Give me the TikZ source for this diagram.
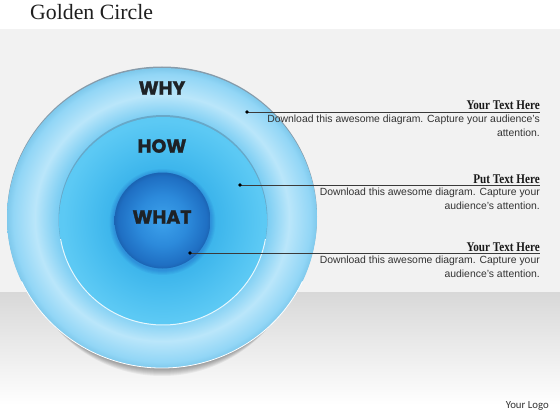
\documentclass[tikz,border=0pt]{standalone}
\usepackage{fontspec}
\setmainfont{Liberation Serif}
\setsansfont{Liberation Sans}
\newfontfamily\ringfont[BoldFeatures={FakeBold=1.2}]{Poppins}
\newfontfamily\headfont[FakeStretch=0.84]{Liberation Serif}
\newfontfamily\logofont{Carlito}
\usepackage{tikz}
\usetikzlibrary{positioning}

\definecolor{panel}{HTML}{F2F2F2}
\definecolor{floor}{HTML}{D8D8D8}
\definecolor{ringin}{HTML}{7DCEF3}
\definecolor{ringlight}{HTML}{BAE6FA}
\definecolor{ringout}{HTML}{92D6F6}
\definecolor{ringrim}{HTML}{7FC9EC}
\definecolor{ringtop}{HTML}{40627A}
\definecolor{howdeep}{HTML}{3BB4EB}
\definecolor{howmid}{HTML}{4BBFF0}
\definecolor{howout}{HTML}{5CC9F4}
\definecolor{whatlight}{HTML}{3DA2EC}
\definecolor{whatmid}{HTML}{2C8ADB}
\definecolor{whatdark}{HTML}{1F6FC3}
\definecolor{whatrim}{HTML}{1B64B3}
\definecolor{ink}{HTML}{1E2226}
\definecolor{pin}{HTML}{3A3A3A}

\pgfdeclareradialshading{whyshade}{\pgfpoint{0bp}{0bp}}{color(0bp)=(ringin); color(17bp)=(ringin); color(20.5bp)=(ringlight); color(24bp)=(ringout); color(25bp)=(ringrim); color(50bp)=(ringrim)}
\pgfdeclareradialshading{howshade}{\pgfpoint{0bp}{0bp}}{color(0bp)=(howdeep); color(12bp)=(howdeep); color(18bp)=(howmid); color(24bp)=(howout); color(25bp)=(howout); color(50bp)=(howout)}
\pgfdeclareradialshading{whatshade}{\pgfpoint{0bp}{0bp}}{color(0bp)=(whatlight); color(13bp)=(whatmid); color(23bp)=(whatdark); color(25bp)=(whatrim); color(50bp)=(whatrim)}

\tikzset{
  ringlabel/.style={font=\ringfont\bfseries\fontsize{19}{19}\selectfont, text=ink},
  headtext/.style={font=\headfont\bfseries\fontsize{13.3}{14}\selectfont, text=black!90, inner sep=0pt, anchor=base east},
  bodytext/.style={font=\sffamily\fontsize{10.4}{14}\selectfont, text=black!80, inner sep=0pt, align=right, anchor=north east},
  leader/.style={draw=pin, line width=0.6pt}
}

\begin{document}
\begin{tikzpicture}[x=1pt, y=-1pt]
	\useasboundingbox (0,0) rectangle (560,420);
	% backdrop
	\fill[white] (0,0) rectangle (560,420);
	\fill[panel] (0,29) rectangle (560,292);
	\shade[top color=floor, bottom color=white] (0,292) rectangle (560,405);
	\node[anchor=base west, inner sep=0pt, font=\fontsize{21.8}{22}\selectfont, text=black!88] (title) at (30,19.5) {Golden Circle};

	% circles
	\foreach \k in {0,...,8}
		\fill[black, opacity=0.05] (162,{222+\k}) ellipse ({151-\k} and 146);
	\fill[ringtop, opacity=0.6] (162,216.5) ellipse (155 and 150);
	\shade[shading=whyshade] (162,218) ellipse (155 and 150);
	\draw[white, line width=0.8pt] (162,218) ++(25:155 and 150) arc[start angle=25, end angle=155, x radius=155, y radius=150];
	\fill[ringtop, opacity=0.35] (163,219.5) circle[radius=104.5];
	\shade[shading=howshade] (163,221) circle[radius=104];
	\draw[white!90!cyan, line width=1pt] (163,221) ++(10:104) arc[start angle=10, end angle=170, radius=104];
	\foreach \k in {1,...,5}
		\fill[blue!60!black, opacity=0.04] (162.5,222) circle[radius=48+\k];
	\shade[shading=whatshade] (162.5,220.5) circle[radius=48];

	\node[ringlabel] (why) at (162,88) {WHY};
	\node[ringlabel] (how) at (162,146) {HOW};
	\node[ringlabel] (what) at (162,217) {WHAT};

	% pins and leaders
	\foreach \name/\x/\y in {why/247/112, how/240/185, what/190/253} {
		\coordinate (pin\name) at (\x,\y);
		\coordinate (end\name) at (540,\y);
	}
	\foreach \name in {why, how, what} {
		\draw[leader] (pin\name) -- (end\name);
		\fill[pin] (pin\name) circle[radius=1.8];
	}

	\node[headtext] (headwhy) at ([yshift=2pt]endwhy) {Your Text Here};
	\node[bodytext] (bodywhy) at ([yshift=-2.5pt]endwhy) {Download this awesome diagram. Capture your audience’s\\attention.};
	\node[headtext] (headhow) at ([yshift=2pt]endhow) {Put Text Here};
	\node[bodytext] (bodyhow) at ([yshift=-2.5pt]endhow) {Download this awesome diagram. Capture your\\audience’s attention.};
	\node[headtext] (headwhat) at ([yshift=2pt]endwhat) {Your Text Here};
	\node[bodytext] (bodywhat) at ([yshift=-2.5pt]endwhat) {Download this awesome diagram. Capture your\\audience’s attention.};

	\node[anchor=base east, inner sep=0pt, font=\logofont\fontsize{10.8}{11}\selectfont, text=black!80] (logo) at (549,408) {Your Logo};
\end{tikzpicture}
\end{document}
